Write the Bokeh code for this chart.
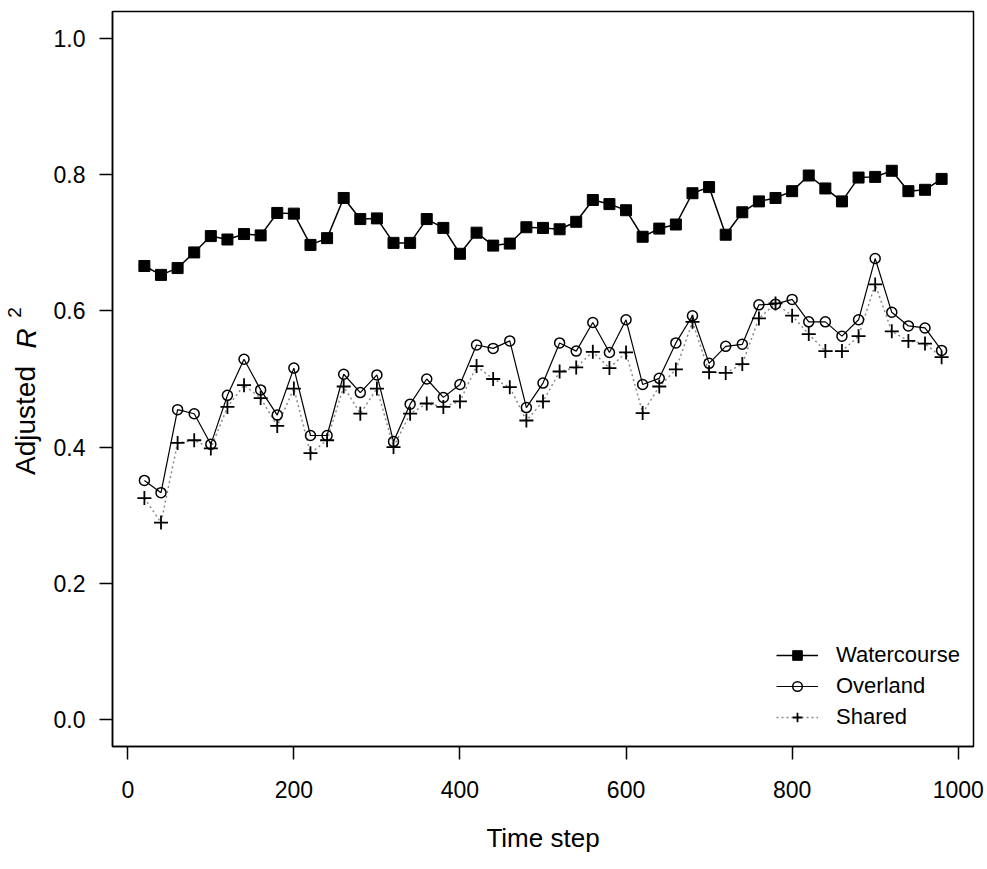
import math
from bokeh.plotting import figure
from bokeh.layouts import row
from bokeh.models import (ColumnDataSource, FixedTicker, Label, Legend, LegendItem,
                          Range1d)
from bokeh.embed import file_html
from bokeh.resources import INLINE

time_step = [20, 40, 60, 80, 100, 120, 140, 160, 180, 200, 220, 240, 260, 280, 300,
             320, 340, 360, 380, 400, 420, 440, 460, 480, 500, 520, 540, 560, 580, 600,
             620, 640, 660, 680, 700, 720, 740, 760, 780, 800, 820, 840, 860, 880, 900,
             920, 940, 960, 980]

watercourse = [0.666, 0.653, 0.663, 0.686, 0.710, 0.705, 0.713, 0.711, 0.744, 0.743,
               0.697, 0.707, 0.766, 0.735, 0.736, 0.700, 0.700,
               0.735, 0.722, 0.684, 0.715, 0.696, 0.699, 0.723, 0.722, 0.720, 0.731,
               0.763, 0.757, 0.748, 0.709, 0.721, 0.727, 0.773,
               0.782, 0.712, 0.745, 0.761, 0.766, 0.776, 0.799, 0.780, 0.761, 0.796,
               0.797, 0.806, 0.776, 0.778, 0.794]

overland = [0.351, 0.333, 0.455, 0.449, 0.404, 0.476, 0.529, 0.484, 0.447, 0.516,
            0.417, 0.417, 0.507, 0.480, 0.506, 0.408, 0.463,
            0.500, 0.473, 0.492, 0.550, 0.545, 0.556, 0.458, 0.494, 0.553, 0.541,
            0.583, 0.539, 0.587, 0.492, 0.501, 0.553, 0.593,
            0.523, 0.548, 0.551, 0.609, 0.610, 0.617, 0.584, 0.584, 0.563, 0.587,
            0.677, 0.598, 0.578, 0.575, 0.542]

shared = [0.325, 0.289, 0.406, 0.410, 0.398, 0.459, 0.491, 0.472, 0.431, 0.486,
          0.391, 0.410, 0.489, 0.449, 0.486, 0.400, 0.449,
          0.464, 0.459, 0.467, 0.519, 0.500, 0.488, 0.439, 0.467, 0.511, 0.517,
          0.540, 0.516, 0.539, 0.450, 0.489, 0.514, 0.584,
          0.510, 0.509, 0.522, 0.589, 0.611, 0.593, 0.566, 0.541, 0.541, 0.563,
          0.639, 0.570, 0.556, 0.552, 0.532]

x_ticks = [0, 200, 400, 600, 800, 1000]
y_ticks = [0.0, 0.2, 0.4, 0.6, 0.8, 1.0]
y_tick_labels = ["0.0", "0.2", "0.4", "0.6", "0.8", "1.0"]

FONT = "Liberation Sans"

src = ColumnDataSource(dict(t=time_step, w=watercourse, o=overland, s=shared))

p = figure(width=939, height=869, output_backend="svg", toolbar_location=None,
           x_range=Range1d(-18.4, 1018.4), y_range=Range1d(-0.04, 1.04),
           min_border_left=64, min_border_right=14, min_border_top=11,
           min_border_bottom=123)
p.background_fill_color = "white"
p.border_fill_color = "white"
p.outline_line_color = "black"
p.outline_line_width = 1.5
p.xgrid.visible = False
p.ygrid.visible = False

# Shared (dotted grey line with crosses)
ls = p.line("t", "s", source=src, line_color="#8a8a8a", line_width=1.5, line_dash="2 3")
ss = p.scatter("t", "s", source=src, marker="cross", size=14, line_color="black",
               line_width=1.8)
# Overland (solid line with open circles)
lo = p.line("t", "o", source=src, line_color="black", line_width=1.2)
so = p.scatter("t", "o", source=src, marker="circle", size=10, line_color="black",
               line_width=1.5, fill_color=None)
# Watercourse (solid line with filled squares)
lw = p.line("t", "w", source=src, line_color="black", line_width=1.5)
sw = p.scatter("t", "w", source=src, marker="square", size=11, line_color="black",
               fill_color="black")

# Axes
for ax in (p.xaxis[0], p.yaxis[0]):
    ax.axis_line_color = "black"
    ax.axis_line_width = 1.5
    ax.major_tick_line_color = "black"
    ax.major_tick_line_width = 1.5
    ax.major_tick_out = 13
    ax.major_tick_in = 0
    ax.minor_tick_line_color = None
    ax.major_label_text_font = FONT
    ax.major_label_text_font_size = "23px"
    ax.major_label_text_color = "black"

p.xaxis.ticker = FixedTicker(ticks=x_ticks)
p.xaxis.major_label_standoff = 21
p.xaxis.axis_label = "Time step"
p.xaxis.axis_label_text_font = FONT
p.xaxis.axis_label_text_font_size = "26px"
p.xaxis.axis_label_text_font_style = "normal"
p.xaxis.axis_label_text_color = "black"
p.xaxis.axis_label_standoff = 22

p.yaxis.ticker = FixedTicker(ticks=y_ticks)
p.yaxis.major_label_overrides = {t: l for t, l in zip(y_ticks, y_tick_labels)}
p.yaxis.major_label_orientation = "horizontal"
p.yaxis.major_label_standoff = 14

legend = Legend(items=[
    LegendItem(label="Watercourse", renderers=[lw, sw]),
    LegendItem(label="Overland", renderers=[lo, so]),
    LegendItem(label="Shared", renderers=[ls, ss]),
], location=(664, 16))
legend.border_line_color = None
legend.background_fill_alpha = 0
legend.label_text_font = FONT
legend.label_text_font_size = "22px"
legend.label_text_color = "black"
legend.glyph_width = 42
legend.glyph_height = 24
legend.label_height = 24
legend.label_standoff = 18
legend.spacing = 5
legend.padding = 0
legend.margin = 0
p.add_layout(legend)

# Narrow side panel holding the y-axis title "Adjusted R^2" (italic R, superscript 2).
# Its frame is aligned with the main frame (top 11, bottom 746).
yt = figure(width=48, height=869, output_backend="svg", toolbar_location=None,
            x_axis_location=None, y_axis_location=None, min_border=0,
            x_range=Range1d(0, 1), y_range=Range1d(0, 1))
yt.outline_line_color = None
yt.xgrid.visible = False
yt.ygrid.visible = False
yt.background_fill_color = "white"
yt.border_fill_color = "white"
yt.add_layout(Label(x=25, y=326, x_units="screen", y_units="screen", text="Adjusted",
                    angle=math.pi / 2, text_align="center", text_baseline="middle",
                    text_font=FONT, text_font_size="28px", text_color="black"))
yt.add_layout(Label(x=25.5, y=408, x_units="screen", y_units="screen", text="R",
                    angle=math.pi / 2, text_align="center", text_baseline="middle",
                    text_font=FONT, text_font_size="28px", text_font_style="italic",
                    text_color="black"))
yt.add_layout(Label(x=13.5, y=434, x_units="screen", y_units="screen", text="2",
                    angle=math.pi / 2, text_align="center", text_baseline="middle",
                    text_font=FONT, text_font_size="19px", text_color="black"))

layout = row(yt, p, spacing=0)
open("out.html", "w").write(file_html(layout, INLINE))
